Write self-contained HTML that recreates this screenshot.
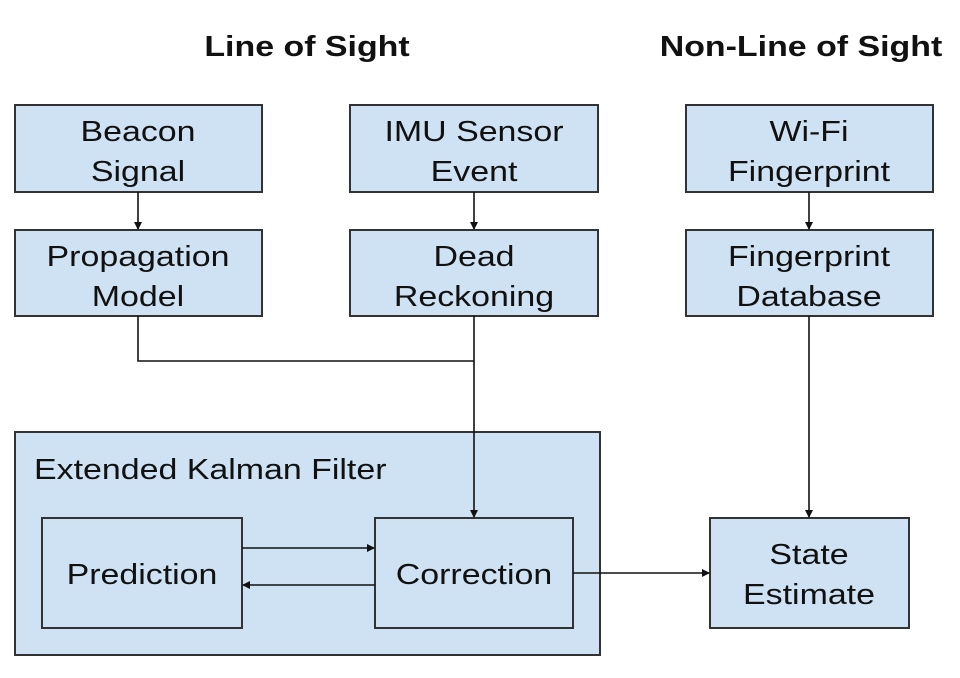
<!DOCTYPE html>
<html><head><style>body{margin:0;background:#fff}</style></head><body>
<svg width="960" height="673" xmlns="http://www.w3.org/2000/svg" font-family="Liberation Sans, sans-serif">
<defs><marker id="a" markerWidth="8" markerHeight="8" refX="7" refY="4" orient="auto" markerUnits="userSpaceOnUse"><path d="M0,0 L8,4 L0,8z" fill="#111"/></marker></defs>
<g font-size="29" font-weight="bold" text-anchor="middle" fill="#111">
<text transform="translate(307,56) scale(1.17 1)">Line of Sight</text>
<text transform="translate(801,56) scale(1.17 1)">Non-Line of Sight</text>
</g>
<g fill="#cfe2f3" stroke="#333" stroke-width="2">
<rect x="15" y="432" width="585" height="223"/>
<rect x="15" y="105" width="247" height="87"/>
<rect x="350" y="105" width="248" height="87"/>
<rect x="686" y="105" width="247" height="87"/>
<rect x="15" y="230" width="247" height="86"/>
<rect x="350" y="230" width="248" height="86"/>
<rect x="686" y="230" width="247" height="86"/>
<rect x="42" y="518" width="200" height="110"/>
<rect x="375" y="518" width="198" height="110"/>
<rect x="710" y="518" width="199" height="110"/>
</g>
<g fill="none" stroke="#111" stroke-width="1.6">
<line x1="138" y1="192" x2="138" y2="229" marker-end="url(#a)"/>
<line x1="474" y1="192" x2="474" y2="229" marker-end="url(#a)"/>
<line x1="809" y1="192" x2="809" y2="229" marker-end="url(#a)"/>
<polyline points="138,316 138,361 474,361"/>
<line x1="474" y1="316" x2="474" y2="517" marker-end="url(#a)"/>
<line x1="809" y1="316" x2="809" y2="517" marker-end="url(#a)"/>
<line x1="242" y1="548" x2="374" y2="548" marker-end="url(#a)"/>
<line x1="375" y1="585" x2="243" y2="585" marker-end="url(#a)"/>
<line x1="573" y1="573" x2="709" y2="573" marker-end="url(#a)"/>
</g>
<g font-size="29" text-anchor="middle" fill="#111">
<text transform="translate(138,141) scale(1.17 1)">Beacon</text><text transform="translate(138,181) scale(1.17 1)">Signal</text>
<text transform="translate(474,141) scale(1.17 1)">IMU Sensor</text><text transform="translate(474,181) scale(1.17 1)">Event</text>
<text transform="translate(809,141) scale(1.17 1)">Wi-Fi</text><text transform="translate(809,181) scale(1.17 1)">Fingerprint</text>
<text transform="translate(138,266) scale(1.17 1)">Propagation</text><text transform="translate(138,306) scale(1.17 1)">Model</text>
<text transform="translate(474,266) scale(1.17 1)">Dead</text><text transform="translate(474,306) scale(1.17 1)">Reckoning</text>
<text transform="translate(809,266) scale(1.17 1)">Fingerprint</text><text transform="translate(809,306) scale(1.17 1)">Database</text>
<text transform="translate(142,584) scale(1.17 1)">Prediction</text>
<text transform="translate(474,584) scale(1.17 1)">Correction</text>
<text transform="translate(809,564) scale(1.17 1)">State</text><text transform="translate(809,604) scale(1.17 1)">Estimate</text>
<text text-anchor="start" transform="translate(34,479) scale(1.17 1)">Extended Kalman Filter</text>
</g>
</svg>
</body></html>
